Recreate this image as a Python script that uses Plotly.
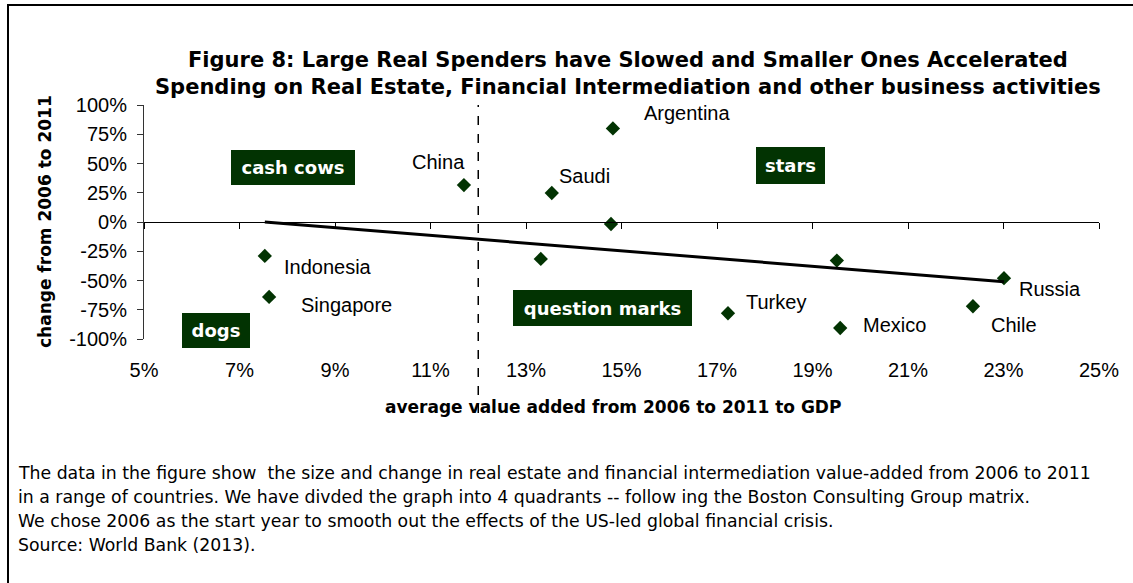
import plotly.graph_objects as go

# ---- data ----
countries = ["Indonesia", "Singapore", "China", "Saudi", "Argentina", "", "",
             "Turkey", "", "Russia", "Chile", "Mexico"]
avg_value_added = [7.53, 7.62, 11.70, 13.54, 14.82, 14.78, 13.31,
                   17.23, 19.51, 23.01, 22.36, 19.58]
change_pct = [-29, -64, 31.6, 24.8, 80, -1.7, -31.6,
              -78, -33, -48, -72, -90.6]
trend_x = [7.53, 23.01]
trend_y = [0, -51]
divider_x = 12
x_ticks = [5, 7, 9, 11, 13, 15, 17, 19, 21, 23, 25]
x_ticktext = [f"{v}%" for v in x_ticks]
y_ticks = [100, 75, 50, 25, 0, -25, -50, -75, -100]
y_ticktext = [f"{v}%" for v in y_ticks]
quadrants = ["cash cows", "stars", "question marks", "dogs"]
quadrant_x = [8.12, 18.53, 14.61, 6.51]
quadrant_y = [47, 48, -73.5, -93]
title_lines = ["Figure 8: Large Real Spenders have Slowed and Smaller Ones Accelerated",
               "Spending on Real Estate, Financial Intermediation and other business activities"]
x_title = "average value added from 2006 to 2011 to GDP"
y_title = "change from 2006 to 2011"
footnote = ["The data in the figure show  the size and change in real estate and financial intermediation value-added from 2006 to 2011",
            "in a range of countries. We have divded the graph into 4 quadrants -- follow ing the Boston Consulting Group matrix.",
            "We chose 2006 as the start year to smooth out the effects of the US-led global financial crisis.",
            "Source: World Bank (2013)."]

# ---- styles ----
GREEN = "#023302"
FONT = "Liberation Sans, Arial, sans-serif"
WIDE = "DejaVu Sans, Liberation Sans, sans-serif"
label_style = {  # xanchor, xshift, yshift
    "Indonesia": ("left", 17, -11), "Singapore": ("left", 30, -8),
    "China": ("right", 3, 23), "Saudi": ("left", 5, 17),
    "Argentina": ("left", 29, 15), "Turkey": ("left", 16, 11),
    "Mexico": ("left", 21, 3), "Chile": ("left", 16, -19),
    "Russia": ("left", 13, -11),
}
box_size = {"cash cows": (124, 35), "stars": (69, 37),
            "question marks": (179, 36), "dogs": (68, 35)}

fig = go.Figure()
fig.add_trace(go.Scatter(
    x=avg_value_added, y=change_pct, mode="markers",
    marker=dict(symbol="diamond", size=11, color=GREEN),
    hoverinfo="skip", showlegend=False))
fig.add_trace(go.Scatter(
    x=trend_x, y=trend_y, mode="lines", xaxis="x2",
    line=dict(color="black", width=3),
    hoverinfo="skip", showlegend=False))

annotations = []
for c, xv, yv in zip(countries, avg_value_added, change_pct):
    if not c:
        continue
    xa, xs, ys = label_style[c]
    annotations.append(dict(x=xv, y=yv, xref="x", yref="y", text=c, showarrow=False,
                            xanchor=xa, yanchor="middle", xshift=xs, yshift=ys,
                            font=dict(family=FONT, size=20, color="black")))
for q, xv, yv in zip(quadrants, quadrant_x, quadrant_y):
    w, h = box_size[q]
    annotations.append(dict(x=xv, y=yv, xref="x", yref="y", text=f"<b>{q}</b>",
                            showarrow=False, bgcolor=GREEN, borderpad=0, borderwidth=0,
                            width=w, height=h, align="center",
                            font=dict(family=WIDE, size=18, color="white")))

# pixel helpers for paper placement (plot area 144..1099 x, 105..339 y)
def px(x):
    return (x - 144) / 955

def py(y):
    return (339 - y) / 234

for line, yy in zip(title_lines, [60, 87]):
    annotations.append(dict(x=px(628), y=py(yy), xref="paper", yref="paper",
                            text=f"<b>{line}</b>", showarrow=False,
                            xanchor="center", yanchor="middle",
                            font=dict(family=WIDE, size=21, color="black")))
annotations.append(dict(x=px(613), y=py(407), xref="paper", yref="paper",
                        text=f"<b>{x_title}</b>", showarrow=False,
                        xanchor="center", yanchor="middle",
                        font=dict(family=WIDE, size=17, color="black")))
annotations.append(dict(x=px(45), y=py(222), xref="paper", yref="paper",
                        text=f"<b>{y_title}</b>", showarrow=False, textangle=-90,
                        xanchor="center", yanchor="middle",
                        font=dict(family=WIDE, size=17, color="black")))
for line, yy in zip(footnote, [473, 497, 521, 545]):
    annotations.append(dict(x=px(16), y=py(yy), xref="paper", yref="paper",
                            text=line, showarrow=False,
                            xanchor="left", yanchor="middle",
                            font=dict(family=WIDE, size=17.3, color="black")))

shapes = [
    dict(type="line", xref="x", yref="paper", x0=divider_x, x1=divider_x,
         y0=py(413), y1=py(105), line=dict(color="black", width=1.5, dash="dash")),
    dict(type="rect", xref="paper", yref="paper", x0=px(8), x1=px(1145),
         y0=py(600), y1=py(5), line=dict(color="black", width=2)),
]

fig.update_layout(
    width=1133, height=583,
    margin=dict(l=144, r=34, t=105, b=244),
    paper_bgcolor="white", plot_bgcolor="white",
    font=dict(family=FONT, size=20, color="black"),
    showlegend=False,
    xaxis=dict(range=[5, 25], tickvals=x_ticks, ticktext=x_ticktext,
               showline=False, ticks="", showgrid=False, zeroline=False,
               ticklabelstandoff=17, tickfont=dict(size=20)),
    xaxis2=dict(overlaying="x", matches="x", anchor="free", position=0.5,
                range=[5, 25], tickvals=x_ticks, showticklabels=False,
                showline=True, linecolor="black", linewidth=1,
                ticks="outside", ticklen=6, tickcolor="black",
                showgrid=False, zeroline=False),
    yaxis=dict(range=[-100, 100], tickvals=y_ticks, ticktext=y_ticktext,
               showline=True, linecolor="#333", linewidth=1,
               ticks="outside", ticklen=6, tickcolor="#333",
               showgrid=False, zeroline=False, ticklabelstandoff=6,
               tickfont=dict(size=20)),
    annotations=annotations,
    shapes=shapes,
)

fig.write_html("out.html", config={"displayModeBar": False},
               post_script="document.body.style.margin='0';")
